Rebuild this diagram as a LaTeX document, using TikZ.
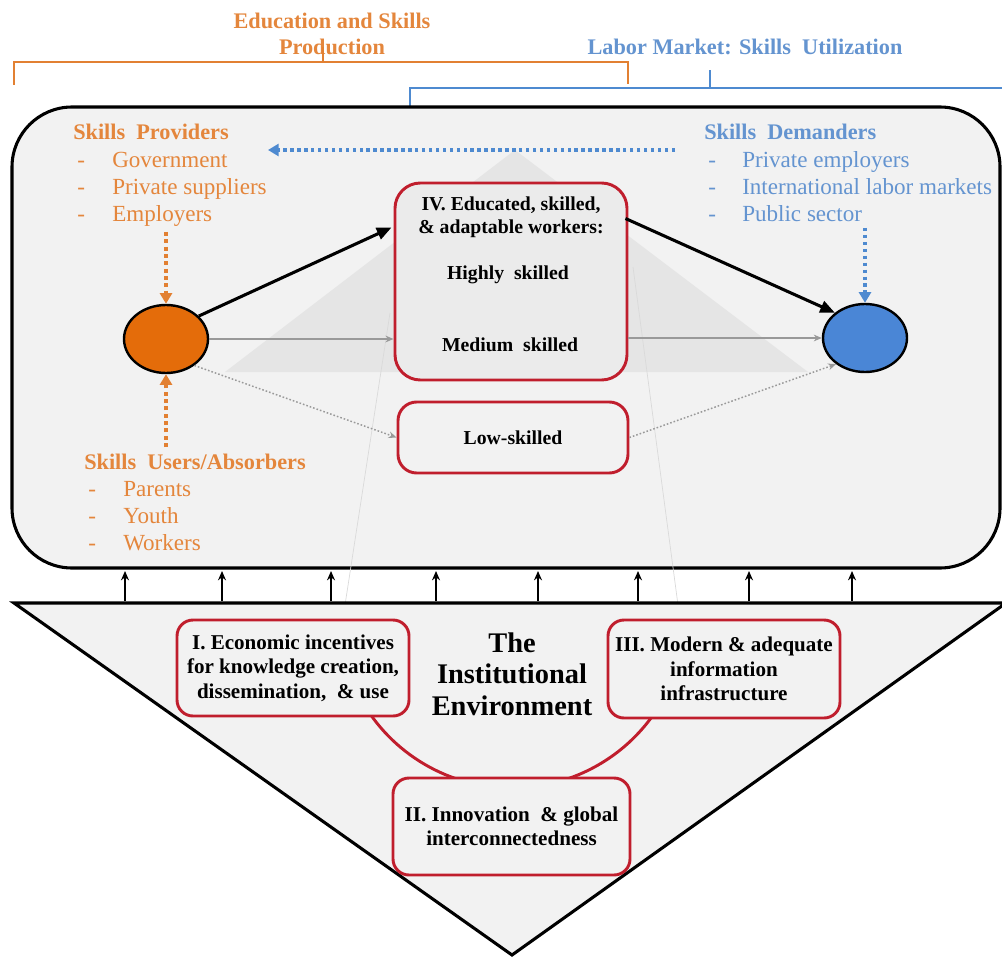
\documentclass[tikz,border=0pt]{standalone}
\usepackage{fontspec}
\setmainfont{Liberation Serif}
\usetikzlibrary{arrows.meta,shapes.geometric,calc}
\definecolor{bgc}{RGB}{242,242,242}
\definecolor{orangetxt}{RGB}{228,134,60}
\definecolor{bluetxt}{RGB}{100,148,208}
\definecolor{orangeline}{RGB}{226,128,50}
\definecolor{blueline}{RGB}{78,138,208}
\definecolor{orangefill}{RGB}{228,108,10}
\definecolor{bluefill}{RGB}{74,134,214}
\definecolor{redb}{RGB}{192,30,45}
\definecolor{pyr}{RGB}{229,229,229}
\tikzset{
  listtxt/.style={anchor=base west,inner sep=0pt,font=\fontsize{17.3}{20}\selectfont},
  headtxt/.style={anchor=base west,inner sep=0pt,font=\fontsize{16.7}{20}\selectfont\bfseries},
  ivtxt/.style={inner sep=0pt,align=center,font=\fontsize{14.8}{17.25}\selectfont\bfseries},
  redbox/.style={draw=redb,line width=2.2pt,fill=bgc,align=center,inner sep=0pt},
  tribox/.style={redbox,rounded corners=12pt,minimum width=174pt,minimum height=72pt,
    font=\fontsize{15.8}{18.4}\selectfont\bfseries},
  blkarrow/.style={line width=2.3pt,-{Triangle[length=11pt,width=9pt]}},
  grayarrow/.style={draw=gray!80,line width=1.1pt,-{Stealth[length=6pt,width=5pt]}},
  graydot/.style={draw=gray!80,line width=1.1pt,dash pattern=on 1.2pt off 1.5pt,-{Stealth[length=6pt,width=5pt]}},
  ordot/.style={draw=orangeline,line width=3pt,dash pattern=on 3pt off 2.5pt,-{Triangle[length=8pt,width=9pt]}},
  bldot/.style={draw=blueline,line width=2.6pt,dash pattern=on 2.6pt off 2.6pt,-{Triangle[length=8pt,width=9pt]}},
  uparrow/.style={line width=1.2pt,-{Stealth[length=7pt,width=6pt]}},
  ellnode/.style={ellipse,draw=black,line width=1.8pt,minimum width=63pt,minimum height=51pt,inner sep=0pt}
}
\begin{document}
\begin{tikzpicture}[x=0.75pt,y=-0.75pt]
\useasboundingbox (0,0) rectangle (1002,959);
\fill[white] (0,0) rectangle (1002,959);

% top brackets
\draw[orangeline,line width=1.8pt] (14,85) -- (14,62) -- (628,62) -- (628,84);
\draw[blueline,line width=1.8pt] (410,106) -- (410,88) -- (1004,88);
\draw[blueline,line width=1.8pt] (710,88) -- (710,70);
\node[align=center,text=orangetxt,font=\fontsize{16.7}{20}\selectfont\bfseries,inner sep=0pt] (edu) at (332,34) {Education and Skills\\Production};
\draw[orangeline,line width=1.8pt] (323,62) -- (323,47);
\node[text=bluetxt,font=\fontsize{16.7}{20}\selectfont\bfseries,inner sep=0pt] (lab) at (745,47) {Labor Market: Skills\ \ Utilization};

% main box
\draw[line width=2.3pt,rounded corners=45pt,fill=bgc] (12,107) rectangle (1000,568);

% pyramid background
\fill[pyr] (225,372) -- (515,150) -- (808,372) -- cycle;
\draw[gray!30,line width=0.5pt] (390,313) -- (345,605);
\draw[gray!30,line width=0.5pt] (633,267) -- (678,605);

% ellipses
\node[ellnode,fill=orangefill] (oe) at (166,339) {};
\node[ellnode,fill=bluefill] (be) at (865,338) {};

% worker boxes
\node[redbox,fill=black!8,minimum width=174pt,minimum height=147.75pt,rounded corners=19pt] (iv) at (511,281.5) {};
\node[ivtxt] (ivt) at (511,217) {IV. Educated, skilled,\\\& adaptable workers:};
\node[ivtxt] (hs) at (508,275) {Highly\ \ skilled};
\node[ivtxt] (ms) at (510,345) {Medium\ \ skilled};
\node[redbox,minimum width=172.5pt,minimum height=53.25pt,rounded corners=14pt,font=\fontsize{14.8}{16}\selectfont\bfseries] (low) at (513,437.5) {Low-skilled};

% arrows
\draw[blkarrow] (oe.35) -- ($(iv.west)+(-2,-54)$);
\draw[blkarrow] ($(iv.east)+(-3,-63)$) -- (be.140);
\draw[grayarrow] (oe.east) -- (oe.east -| iv.west);
\draw[grayarrow] (be.west -| iv.east) -- (be.west);
\draw[graydot] (oe.-43) -- (low.west);
\draw[graydot] (low.east) -- (be.222);

\coordinate (ptop) at (166,232);
\coordinate (pbot) at (166,447);
\coordinate (dtop) at (865,228);
\coordinate (hr) at (675,150);
\coordinate (hl) at (268,150);
\draw[ordot] (ptop) -- (oe.north);
\draw[ordot] (pbot) -- (oe.south);
\draw[bldot] (dtop) -- (be.north);
\draw[bldot] (hr) -- (hl);

% providers
\node[headtxt,text=orangetxt] (prov) at (73,140) {Skills\ \ Providers};
\foreach \y/\t in {168/Government,195/Private suppliers,222/Employers}{
  \node[listtxt,text=orangetxt] at (77,\y) {-};
  \node[listtxt,text=orangetxt] at (112,\y) {\t};
}
% users
\node[headtxt,text=orangetxt] (users) at (84,469) {Skills\ \ Users/Absorbers};
\foreach \y/\t in {496/Parents,523/Youth,550/Workers}{
  \node[listtxt,text=orangetxt] at (88,\y) {-};
  \node[listtxt,text=orangetxt] at (123,\y) {\t};
}
% demanders
\node[headtxt,text=bluetxt] (dem) at (704,140) {Skills\ \ Demanders};
\foreach \y/\t in {168/Private employers,195/International labor markets,222/Public sector}{
  \node[listtxt,text=bluetxt] at (708,\y) {-};
  \node[listtxt,text=bluetxt] at (742,\y) {\t};
}

% institutional triangle
\draw[line width=2.3pt,fill=bgc] (14,603) -- (1006,603) -- (512,955) -- cycle;
\foreach \x in {125,222,331,436,538,638,749,852}{
  \coordinate (a\x) at (\x,601);
  \coordinate (b\x) at (\x,571);
  \draw[uparrow] (a\x) -- (b\x);
}
\coordinate (arcc) at (512,615);
\draw[redb,line width=2.2pt] ($(arcc)+(145:173)$) arc[start angle=145,end angle=35,radius=173];

\node[tribox] (b1) at (293,668) {I. Economic incentives\\for knowledge creation,\\dissemination,\ \ \& use};
\node[tribox,minimum height=73.5pt] (b3) at (724,669) {III. Modern \& adequate\\information\\infrastructure};
\node[tribox,minimum width=177.75pt,minimum height=72.75pt] (b2) at (511.5,826.5) {II. Innovation\ \ \& global\\interconnectedness};
\node[align=center,inner sep=0pt,font=\fontsize{21.3}{23.5}\selectfont\bfseries] (inst) at (512,674) {The\\Institutional\\Environment};
\end{tikzpicture}
\end{document}
